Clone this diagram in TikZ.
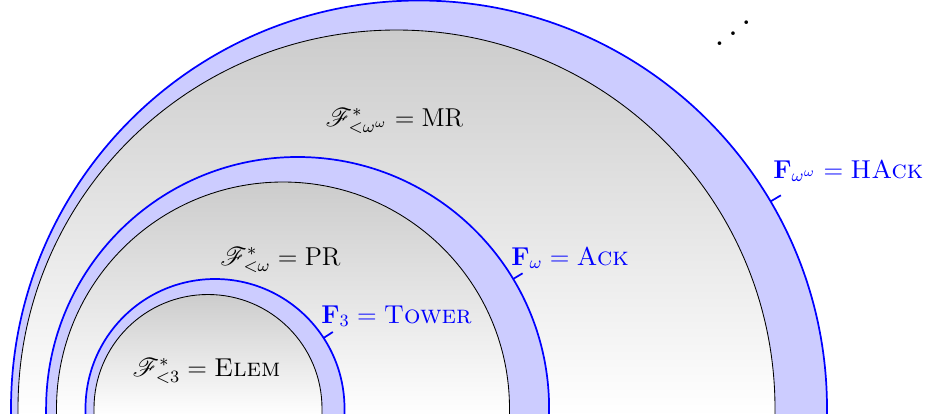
\documentclass[tikz,border=0pt]{standalone}
\usepackage{mathrsfs}
\usepackage{graphicx}
\newcommand\archpath[2]{({#1-#2},-3) -- ({#1-#2},4.5) arc[start angle=180,end angle=0,radius=#2] -- ({#1+#2},-3) -- cycle}
\begin{document}
\begin{tikzpicture}[x=0.465pt,y=0.465pt,
  band/.style={fill=blue!20, draw=blue, thick},
  core/.style={top color=gray!40, bottom color=white, draw=black, thin},
  ticklabel/.style={text=blue, inner sep=0pt, anchor=base west, font=\large},
  setlabel/.style={inner sep=0pt, anchor=base, font=\large},
  tickline/.style={blue, thick}]
\useasboundingbox (0,0) rectangle (930,413);
\clip (0,0) rectangle (930,413);
\fill[white] (0,0) rectangle (930,413);
% outer
\path[band] \archpath{419}{408};
\path[core] \archpath{396.5}{378.5};
% middle
\path[band] \archpath{297.6}{251.5};
\path[core] \archpath{283}{226.5};
% inner
\path[band] \archpath{215}{129.5};
\path[core] \archpath{208}{114};
% labels of the sets
\node[setlabel] (mr) at (394.5,287) {$\mathscr{F}^*_{<\omega^\omega} = \mathrm{MR}$};
\node[setlabel] (pr) at (280.5,148) {$\mathscr{F}^*_{<\omega} = \mathrm{PR}$};
\node[setlabel] (elem) at (206.5,37) {$\mathscr{F}^*_{<3} = \textsc{Elem}$};
% ticks
\coordinate (tA) at ([shift={(215,4.5)}]33:129.5);
\coordinate (tB) at ([shift={(215,4.5)}]33:140.5);
\coordinate (aA) at ([shift={(297.6,4.5)}]31:251.5);
\coordinate (aB) at ([shift={(297.6,4.5)}]31:262.5);
\coordinate (hA) at ([shift={(419,4.5)}]30.5:408);
\coordinate (hB) at ([shift={(419,4.5)}]30.5:420);
\draw[tickline] (tA) -- (tB);
\draw[tickline] (aA) -- (aB);
\draw[tickline] (hA) -- (hB);
\node[ticklabel] (tower) at (321,90) {$\mathbf{F}_3 = \textsc{Tower}$};
\node[ticklabel] (ack) at (511,148) {$\mathbf{F}_\omega = \textsc{Ack}$};
\node[ticklabel] (hack) at (773,235) {$\mathbf{F}_{\omega^\omega} = \textsc{HAck}$};
% dots
\node[inner sep=0pt, anchor=base] (dots) at (733,364) {\scalebox{1.6}{\reflectbox{$\ddots$}}};
\end{tikzpicture}
\end{document}
